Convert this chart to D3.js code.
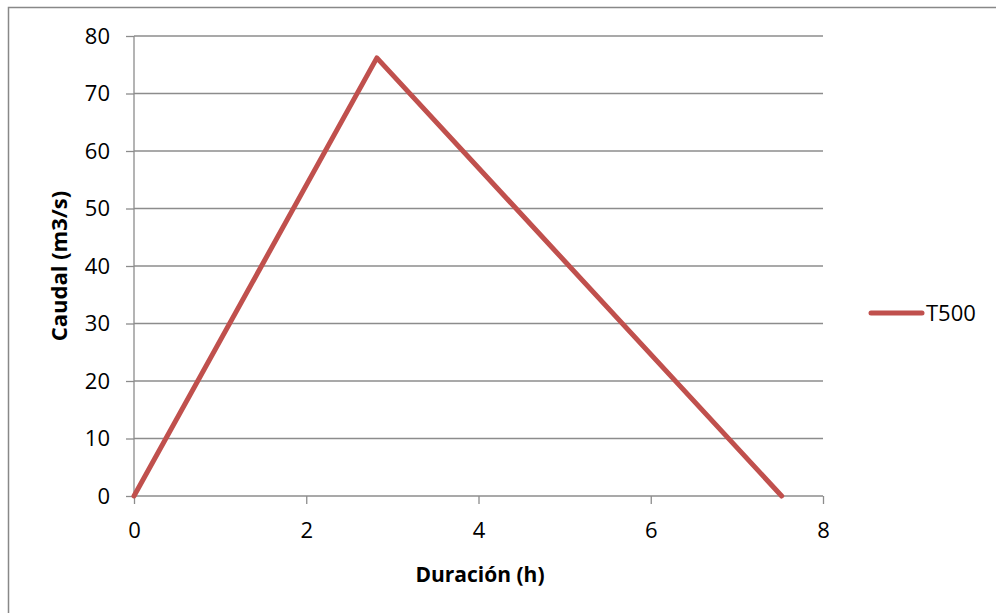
<!DOCTYPE html>
<html><head><meta charset="utf-8">
<script src="https://cdn.jsdelivr.net/npm/d3@7"></script>
<style>body{margin:0;background:#fff;}svg{display:block;font-family:"Open Sans","Liberation Sans",sans-serif;}</style>
</head><body>
<svg id="c" width="996" height="613"></svg>
<script>
const xValues = [0, 2.82, 7.52];
const yValues = [0, 76.2, 0];
const seriesName = "T500";
const xTicks = [0, 2, 4, 6, 8];
const yTicks = [0, 10, 20, 30, 40, 50, 60, 70, 80];
const xTitle = "Duración (h)";
const yTitle = "Caudal (m3/s)";

const svg = d3.select("#c");
svg.append("rect").attr("x", 8.5).attr("y", 7.5).attr("width", 1100).attr("height", 700)
  .attr("fill", "none").attr("stroke", "#888").attr("stroke-width", 1.5);

const L = 134, R = 823, T = 36, B = 496;
const x = d3.scaleLinear().domain([0, 8]).range([L, R]);
const y = d3.scaleLinear().domain([0, 80]).range([B, T]);

svg.append("g").selectAll("line").data(yTicks.filter(d => d > 0)).join("line")
  .attr("x1", L).attr("x2", R).attr("y1", d => y(d)).attr("y2", d => y(d))
  .attr("stroke", "#8c8c8c").attr("stroke-width", 1.3);

const ya = svg.append("g").attr("transform", `translate(${L},0)`)
  .call(d3.axisLeft(y).tickValues(yTicks).tickSize(8).tickPadding(16).tickFormat(d3.format("d")));
const xa = svg.append("g").attr("transform", `translate(0,${B})`)
  .call(d3.axisBottom(x).tickValues(xTicks).tickSize(8).tickPadding(18).tickFormat(d3.format("d")));
[ya, xa].forEach(a => {
  a.select(".domain").attr("stroke", "#8c8c8c").attr("stroke-width", 1.3);
  a.selectAll(".tick line").attr("stroke", "#8c8c8c").attr("stroke-width", 1.3);
  a.selectAll(".tick text").attr("font-size", 22).attr("fill", "#000")
    .attr("font-family", "'Open Sans','Liberation Sans',sans-serif");
});
ya.select(".domain").attr("d", `M0,${B}V${T}`);
xa.select(".domain").attr("d", `M${L},0H${R}`);

const pts = xValues.map((v, i) => [v, yValues[i]]);
svg.append("path").datum(pts)
  .attr("d", d3.line().x(d => x(d[0])).y(d => y(d[1])))
  .attr("fill", "none").attr("stroke", "#C0504D").attr("stroke-width", 5)
  .attr("stroke-linejoin", "round").attr("stroke-linecap", "round");

svg.append("text").attr("x", 480).attr("y", 582).attr("text-anchor", "middle")
  .attr("font-size", 21).attr("font-weight", "bold").text(xTitle);
svg.append("text").attr("transform", `translate(67,266) rotate(-90)`)
  .attr("text-anchor", "middle").attr("font-size", 22).attr("font-weight", "bold").text(yTitle);

svg.append("line").attr("x1", 871).attr("x2", 922).attr("y1", 313).attr("y2", 313)
  .attr("stroke", "#C0504D").attr("stroke-width", 5).attr("stroke-linecap", "round");
svg.append("text").attr("x", 926).attr("y", 321).attr("font-size", 22).text(seriesName);
</script>
</body></html>
